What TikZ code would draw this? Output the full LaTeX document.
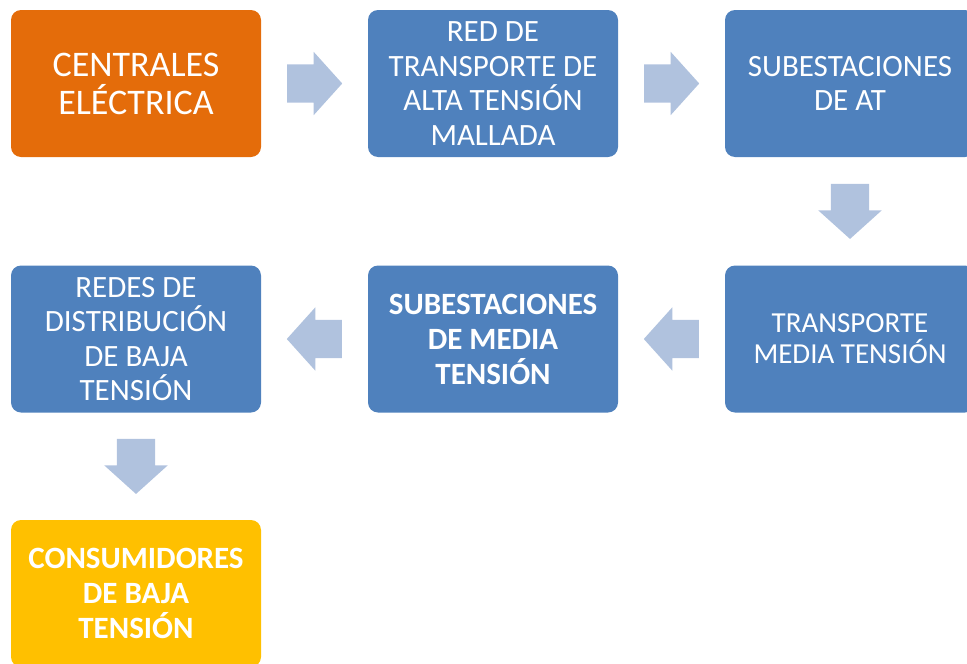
\documentclass[tikz,border=0pt]{standalone}
\usepackage{fontspec}
\setmainfont{Carlito}
\usetikzlibrary{shapes.arrows,calc}
\definecolor{naranja}{HTML}{E46C0A}
\definecolor{azul}{HTML}{4F81BD}
\definecolor{amarillo}{HTML}{FFC000}
\definecolor{azulclaro}{HTML}{B0C2DE}
\tikzset{
  caja/.style={rectangle, rounded corners=10pt, fill=azul, text=white,
    minimum width=250pt, minimum height=147pt, inner sep=0pt, align=center,
    font=\fontsize{31}{34.5}\selectfont},
  flecha/.style={single arrow, fill=azulclaro, draw=none, anchor=tail,
    minimum height=55pt, single arrow head extend=12.5pt,
    single arrow head indent=0pt, single arrow tip angle=96},
  flechah/.style={flecha, inner xsep=0pt, inner ysep=19pt},
  flechav/.style={flecha, inner xsep=19pt, inner ysep=0pt, shape border rotate=270}
}

\begin{document}
\begin{tikzpicture}[x=1pt,y=-1pt]
\useasboundingbox (0,0) rectangle (967,664);
\node[caja, fill=naranja, font=\fontsize{36}{38}\selectfont] (centrales) at (136,83.5) {CENTRALES\\ELÉCTRICA};
\node[caja] (red) at (493,83.5) {RED DE\\TRANSPORTE DE\\ALTA TENSIÓN\\MALLADA};
\node[caja] (subat) at (850,83.5) {SUBESTACIONES\\DE AT};
\node[caja, font=\fontsize{29}{31}\selectfont] (transmt) at (850,339) {TRANSPORTE\\MEDIA TENSIÓN};
\node[caja, font=\fontsize{31}{35}\bfseries] (submt) at (493,339) {SUBESTACIONES\\DE MEDIA\\TENSIÓN};
\node[caja] (redesbt) at (136,339) {REDES DE\\DISTRIBUCIÓN\\DE BAJA\\TENSIÓN};
\node[caja, fill=amarillo, font=\fontsize{31}{35}\bfseries] (consumo) at (136,593.5) {CONSUMIDORES\\DE BAJA\\TENSIÓN};
% flechas entre cajas
\node[flechah] (f1) at ($(centrales.east)!0.5!(red.west)+(-27.5,0)$) {};
\node[flechah] (f2) at ($(red.east)!0.5!(subat.west)+(-27.5,0)$) {};
\node[flechav] (f3) at ($(subat.south)!0.5!(transmt.north)+(0,-27.5)$) {};
\node[flechah, shape border rotate=180] (f4) at ($(transmt.west)!0.5!(submt.east)+(27.5,0)$) {};
\node[flechah, shape border rotate=180] (f5) at ($(submt.west)!0.5!(redesbt.east)+(27.5,0)$) {};
\node[flechav] (f6) at ($(redesbt.south)!0.5!(consumo.north)+(0,-27.5)$) {};
\end{tikzpicture}
\end{document}
